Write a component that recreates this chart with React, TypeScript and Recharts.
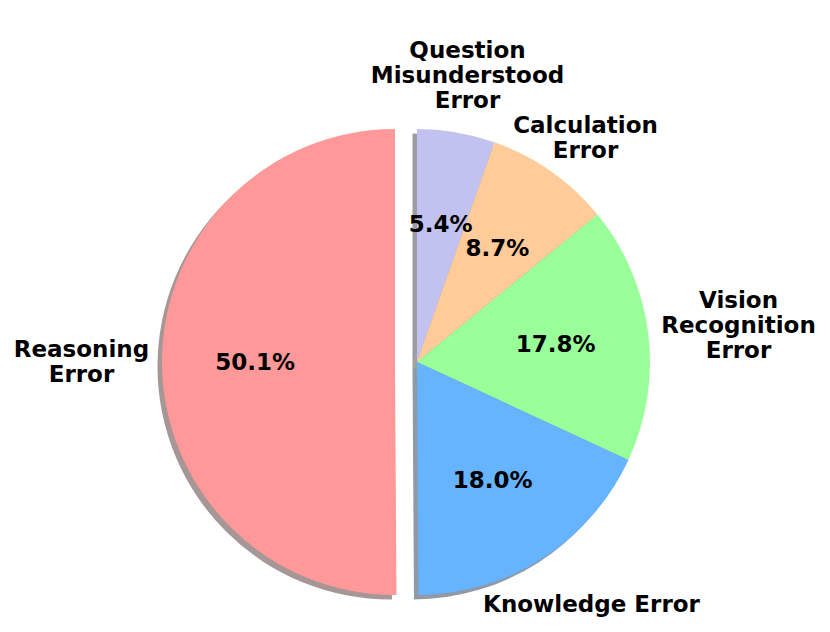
import { PieChart, Pie, Cell } from "recharts";

// slices in clockwise order starting from 12 o'clock
const categories = [
  "Question\nMisunderstood\nError",
  "Calculation\nError",
  "Vision\nRecognition\nError",
  "Knowledge Error",
  "Reasoning\nError",
];
const shares = [5.4, 8.7, 17.8, 18.0, 50.1];
const colors = ["#c2c2f0", "#ffcc99", "#99ff99", "#66b3ff", "#ff9999"];
const explodedIndex = 4;

const data = categories.map((name, i) => ({ name, value: shares[i] }));

// geometry
const W = 830;
const H = 632;
const CX = 417;
const CY = 362;
const R = 233;
const EXPLODE = 22;
const SHADOW = 4.5;
const FONT_SIZE = 23;

// name label anchor (centre x, first baseline) relative to the slice's pie centre
const NAME_OFFSETS: [number, number][] = [
  [50.5, -304],
  [168.5, -229],
  [321.5, -54],
  [174.5, 250],
  [-313.5, -5],
];

const FONT = "'DejaVu Sans', sans-serif";
const RAD = Math.PI / 180;

// matplotlib-style shadow: 0.3 * face colour at half alpha
const shadowOf = (hex: string) => {
  const n = parseInt(hex.slice(1), 16);
  const r = Math.round(((n >> 16) & 255) * 0.3);
  const g = Math.round(((n >> 8) & 255) * 0.3);
  const b = Math.round((n & 255) * 0.3);
  return `rgb(${r},${g},${b})`;
};

const makeLabel = (show: (i: number) => boolean) => (props: any) => {
  const { cx, cy, midAngle, outerRadius, index } = props;
  if (!show(index)) return null;
  const px = cx + outerRadius * 0.6 * Math.cos(-midAngle * RAD);
  const py = cy + outerRadius * 0.6 * Math.sin(-midAngle * RAD);
  const [ox, oy] = NAME_OFFSETS[index];
  const lines = categories[index].split("\n");
  return (
    <g key={`lbl-${index}`}>
      <text
        x={px} y={py + 8} textAnchor="middle"
        fontFamily={FONT} fontWeight="bold" fontSize={FONT_SIZE} fill="#000"
      >
        {shares[index].toFixed(1)}%
      </text>
      <text
        x={cx + ox} y={cy + oy} textAnchor="middle"
        fontFamily={FONT} fontWeight="bold" fontSize={FONT_SIZE} fill="#000"
      >
        {lines.map((l, k) => (
          <tspan key={k} x={cx + ox} dy={k === 0 ? 0 : 25}>{l}</tspan>
        ))}
      </text>
    </g>
  );
};

const isMain = (i: number) => i !== explodedIndex;
const isExploded = (i: number) => i === explodedIndex;

export default function App() {
  const common = {
    data,
    dataKey: "value",
    nameKey: "name",
    startAngle: 90,
    endAngle: -270,
    outerRadius: R,
    innerRadius: 0,
    stroke: "none",
    labelLine: false,
    isAnimationActive: false,
  };
  return (
    <div style={{ position: "absolute", left: 0, top: 0, background: "#fff" }}>
      <PieChart width={W} height={H} margin={{ top: 0, right: 0, bottom: 0, left: 0 }}>
        {/* shadows */}
        <Pie {...common} cx={CX - SHADOW} cy={CY + SHADOW}>
          {data.map((_, i) => (
            <Cell key={i} fill={shadowOf(colors[i])} fillOpacity={isMain(i) ? 0.5 : 0} />
          ))}
        </Pie>
        <Pie {...common} cx={CX - EXPLODE - SHADOW} cy={CY + SHADOW}>
          {data.map((_, i) => (
            <Cell key={i} fill={shadowOf(colors[i])} fillOpacity={isExploded(i) ? 0.5 : 0} />
          ))}
        </Pie>
        {/* wedges */}
        <Pie {...common} cx={CX} cy={CY} label={makeLabel(isMain)}>
          {data.map((_, i) => (
            <Cell key={i} fill={colors[i]} fillOpacity={isMain(i) ? 1 : 0} />
          ))}
        </Pie>
        <Pie {...common} cx={CX - EXPLODE} cy={CY} label={makeLabel(isExploded)}>
          {data.map((_, i) => (
            <Cell key={i} fill={colors[i]} fillOpacity={isExploded(i) ? 1 : 0} />
          ))}
        </Pie>
      </PieChart>
    </div>
  );
}
